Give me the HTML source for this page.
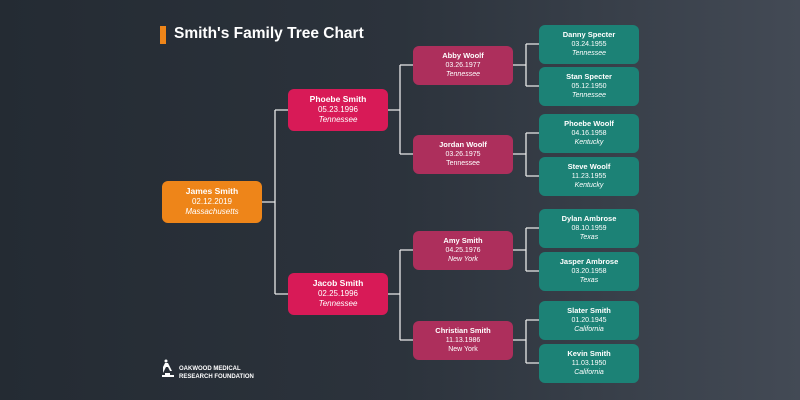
<!DOCTYPE html>
<html><head><meta charset="utf-8"><style>
*{margin:0;padding:0;box-sizing:border-box}
body{width:800px;height:400px;overflow:hidden;background:linear-gradient(90deg,#242b33 0%,#2c333c 50%,#434a55 100%);font-family:"Liberation Sans",sans-serif;position:relative}
.n{position:absolute;width:100px;border-radius:6px;color:#fff;text-align:center;font-size:7px;line-height:9.5px;display:flex;flex-direction:column;justify-content:center}
.n b{font-size:7.5px}
.n i{font-style:italic}
.o{background:#ee8519;height:42px;font-size:8px;line-height:10.5px}
.o b{font-size:8.5px}
.m{background:#d81a57;height:42px;font-size:8px;line-height:10.5px}
.m b{font-size:8.5px}
.p{background:#ad2f5c;height:39px}
.t{background:#1c8276;height:39px}
svg{position:absolute;left:0;top:0}
</style></head><body>
<div style="position:absolute;left:160px;top:26px;width:6px;height:18px;background:#ee8519"></div>
<div style="position:absolute;left:174px;top:24px;color:#fff;font-weight:bold;font-size:15.5px;line-height:20px">Smith's Family Tree Chart</div>
<svg width="800" height="400" stroke="#e8e8e8" stroke-width="1.3" fill="none">
<path d="M262 202H275M275 110V294M275 110H288M275 294H288"/>
<path d="M388 110H400M400 65V154M400 65H413M400 154H413"/>
<path d="M388 294H400M400 250V340M400 250H413M400 340H413"/>
<path d="M513 65H526M526 44V86M526 44H539M526 86H539"/>
<path d="M513 154H526M526 133V176M526 133H539M526 176H539"/>
<path d="M513 250H526M526 228V271M526 228H539M526 271H539"/>
<path d="M513 340H526M526 320V363M526 320H539M526 363H539"/>
</svg>
<div class="n o" style="left:162px;top:181px"><b>James Smith</b><span>02.12.2019</span><i>Massachusetts</i></div>
<div class="n m" style="left:288px;top:89px"><b>Phoebe Smith</b><span>05.23.1996</span><i>Tennessee</i></div>
<div class="n m" style="left:288px;top:273px"><b>Jacob Smith</b><span>02.25.1996</span><i>Tennessee</i></div>
<div class="n p" style="left:413px;top:46px"><b>Abby Woolf</b><span>03.26.1977</span><i>Tennessee</i></div>
<div class="n p" style="left:413px;top:135px"><b>Jordan Woolf</b><span>03.26.1975</span><span>Tennessee</span></div>
<div class="n p" style="left:413px;top:231px"><b>Amy Smith</b><span>04.25.1976</span><i>New York</i></div>
<div class="n p" style="left:413px;top:321px"><b>Christian Smith</b><span>11.13.1986</span><span>New York</span></div>
<div class="n t" style="left:539px;top:25px"><b>Danny Specter</b><span>03.24.1955</span><i>Tennessee</i></div>
<div class="n t" style="left:539px;top:67px"><b>Stan Specter</b><span>05.12.1950</span><i>Tennessee</i></div>
<div class="n t" style="left:539px;top:114px"><b>Phoebe Woolf</b><span>04.16.1958</span><i>Kentucky</i></div>
<div class="n t" style="left:539px;top:157px"><b>Steve Woolf</b><span>11.23.1955</span><i>Kentucky</i></div>
<div class="n t" style="left:539px;top:209px"><b>Dylan Ambrose</b><span>08.10.1959</span><i>Texas</i></div>
<div class="n t" style="left:539px;top:252px"><b>Jasper Ambrose</b><span>03.20.1958</span><i>Texas</i></div>
<div class="n t" style="left:539px;top:301px"><b>Slater Smith</b><span>01.20.1945</span><i>California</i></div>
<div class="n t" style="left:539px;top:344px"><b>Kevin Smith</b><span>11.03.1950</span><i>California</i></div>
<svg width="800" height="400" style="left:0;top:0"><g fill="#fff"><rect x="162" y="375" width="12" height="2"/><rect x="165" y="373" width="5" height="2"/><path d="M163 373 L166 367 L168 367 L170 371 L172 371 L168 363 L165 363 L163 367Z"/><circle cx="166" cy="361" r="1.5"/></g></svg>
<div style="position:absolute;left:179px;top:366px;color:#fff;font-weight:bold;font-size:6px;line-height:7.5px">OAKWOOD MEDICAL<br>RESEARCH FOUNDATION</div>
</body></html>
